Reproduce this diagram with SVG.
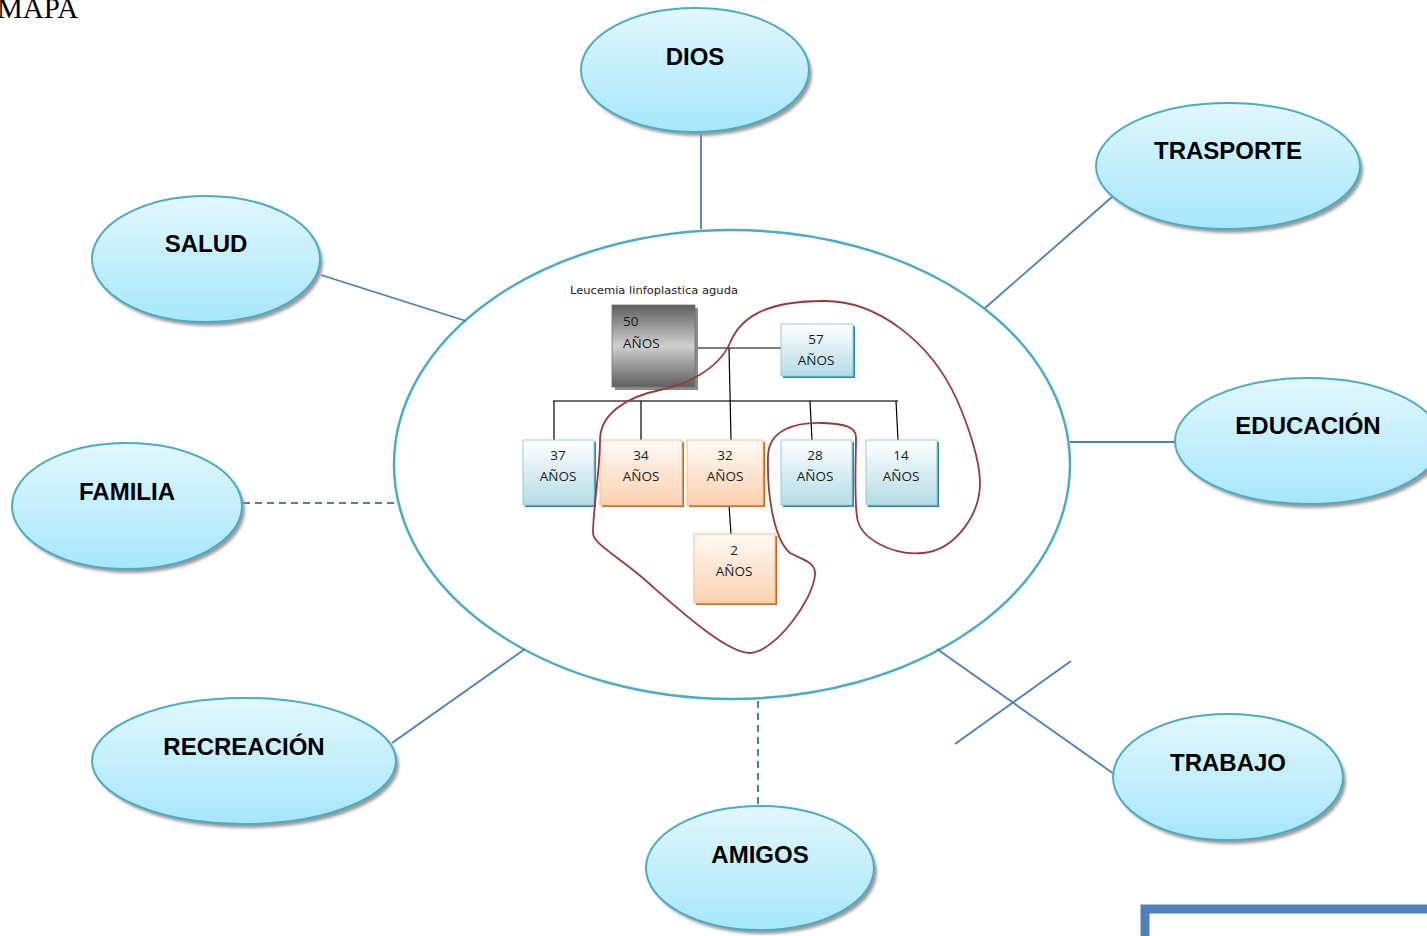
<svg xmlns="http://www.w3.org/2000/svg" width="1427" height="936" viewBox="0 0 1427 936">
  <defs>
    <linearGradient id="bubble" x1="0" y1="0" x2="0" y2="1">
      <stop offset="0" stop-color="#e2f7fd"/>
      <stop offset="1" stop-color="#a6e7fb"/>
    </linearGradient>
    <linearGradient id="blueBox" x1="0" y1="0" x2="0" y2="1">
      <stop offset="0" stop-color="#ffffff"/>
      <stop offset="1" stop-color="#b3dce6"/>
    </linearGradient>
    <linearGradient id="orangeBox" x1="0" y1="0" x2="0" y2="1">
      <stop offset="0" stop-color="#fffaf6"/>
      <stop offset="1" stop-color="#fbd2b1"/>
    </linearGradient>
    <linearGradient id="grayBox" x1="0" y1="0" x2="0" y2="1">
      <stop offset="0" stop-color="#5e5e5e"/>
      <stop offset="0.5" stop-color="#cfcfcf"/>
      <stop offset="1" stop-color="#5e5e5e"/>
    </linearGradient>
    <filter id="soft" x="-10%" y="-10%" width="120%" height="120%">
      <feGaussianBlur stdDeviation="1.5"/>
    </filter>
  </defs>
  <style>
    .bubble { fill: url(#bubble); stroke: #4bacc6; stroke-width: 2; }
    .shade { fill: #9a9a9a; filter: url(#soft); }
    .label { font-family: "Liberation Sans", Arial, sans-serif; font-weight: bold; font-size: 24px; fill: #000; text-anchor: middle; }
    .link { stroke: #4a7ebb; stroke-width: 1.8; fill: none; }
    .dash { stroke-dasharray: 7 5; stroke-width: 2; }
    .tree { stroke: #000; stroke-width: 1.2; fill: none; }
    .sib { stroke: #6e6e6e; stroke-width: 2; fill: none; }
    .bx { fill: url(#blueBox); stroke: #92cddc; stroke-width: 1; }
    .bxs { fill: #31859c; }
    .ox { fill: url(#orangeBox); stroke: #f9be8f; stroke-width: 1; }
    .oxs { fill: #c86a22; }
    .age { font-family: "Open Sans", "Liberation Sans", sans-serif; font-size: 13.5px; fill: #1a1a1a; text-anchor: middle; }
    .left { text-anchor: start; }
    .loop { stroke: #973a3a; stroke-width: 1.8; fill: none; }
  </style>

  <text x="-3" y="18" font-family="Liberation Serif, Times New Roman, serif" font-size="29" fill="#000">MAPA</text>

  <!-- central circle -->
  <ellipse id="centro" cx="732" cy="464.5" rx="338" ry="234.5" fill="#fff" stroke="#4bacc6" stroke-width="2.5"/>

  <!-- connectors -->
  <g id="connectors">
    <line class="link" x1="701" y1="133" x2="701" y2="229"/>
    <line class="link" x1="1112" y1="197" x2="985" y2="308"/>
    <line class="link" x1="321" y1="275" x2="466" y2="321"/>
    <line class="link" x1="1070" y1="442" x2="1176" y2="442"/>
    <line class="link dash" x1="243" y1="503" x2="397" y2="503"/>
    <line class="link" x1="392" y1="743" x2="525" y2="649"/>
    <line class="link dash" x1="758" y1="701" x2="758" y2="805"/>
    <line class="link" x1="937" y1="649" x2="1114" y2="774"/>
    <line class="link" x1="955" y1="744" x2="1071" y2="661"/>
  </g>

  <!-- surrounding topics -->
  <g id="dios">
    <ellipse class="shade" cx="698" cy="74" rx="114" ry="62"/>
    <ellipse class="bubble" cx="695" cy="70" rx="114" ry="62"/>
    <text class="label" x="695" y="65">DIOS</text>
  </g>
  <g id="trasporte">
    <ellipse class="shade" cx="1231" cy="170" rx="132" ry="63"/>
    <ellipse class="bubble" cx="1228" cy="166" rx="132" ry="63"/>
    <text class="label" x="1228" y="159">TRASPORTE</text>
  </g>
  <g id="salud">
    <ellipse class="shade" cx="209" cy="263" rx="114" ry="63"/>
    <ellipse class="bubble" cx="206" cy="259" rx="114" ry="63"/>
    <text class="label" x="206" y="252">SALUD</text>
  </g>
  <g id="educacion">
    <ellipse class="shade" cx="1311" cy="445" rx="133" ry="63"/>
    <ellipse class="bubble" cx="1308" cy="441" rx="133" ry="63"/>
    <text class="label" x="1308" y="434">EDUCACIÓN</text>
  </g>
  <g id="familia">
    <ellipse class="shade" cx="130" cy="510" rx="115" ry="63"/>
    <ellipse class="bubble" cx="127" cy="506" rx="115" ry="63"/>
    <text class="label" x="127" y="500">FAMILIA</text>
  </g>
  <g id="recreacion">
    <ellipse class="shade" cx="247" cy="765" rx="152" ry="63"/>
    <ellipse class="bubble" cx="244" cy="761" rx="152" ry="63"/>
    <text class="label" x="244" y="755">RECREACIÓN</text>
  </g>
  <g id="trabajo">
    <ellipse class="shade" cx="1231" cy="781" rx="115" ry="63"/>
    <ellipse class="bubble" cx="1228" cy="777" rx="115" ry="63"/>
    <text class="label" x="1228" y="771">TRABAJO</text>
  </g>
  <g id="amigos">
    <ellipse class="shade" cx="763" cy="872" rx="114" ry="62"/>
    <ellipse class="bubble" cx="760" cy="868" rx="114" ry="62"/>
    <text class="label" x="760" y="863">AMIGOS</text>
  </g>

  <!-- genogram -->
  <g id="genograma">
    <text x="570" y="294" font-family="DejaVu Sans, sans-serif" font-size="11" fill="#222" textLength="168" lengthAdjust="spacingAndGlyphs">Leucemia linfoplastica aguda</text>

    <line class="sib" x1="553" y1="401" x2="898" y2="401"/>
    <line class="tree" x1="695" y1="348" x2="781" y2="348"/>
    <line class="tree" x1="729" y1="348" x2="731" y2="440"/>
    <line class="tree" x1="554" y1="401" x2="554" y2="440"/>
    <line class="tree" x1="641" y1="401" x2="641" y2="440"/>
    <line class="tree" x1="810" y1="401" x2="812" y2="440"/>
    <line class="tree" x1="896" y1="401" x2="898" y2="440"/>
    <line class="tree" x1="729" y1="505" x2="731" y2="534"/>

    <g id="p50">
      <rect x="615" y="308" width="83" height="82" fill="#8a8a8a"/>
      <rect x="612" y="305" width="83" height="82" fill="url(#grayBox)" stroke="#707070" stroke-width="0.8"/>
      <text class="age left" x="623" y="326">50</text>
      <text class="age left" x="623" y="348">AÑOS</text>
    </g>
    <g id="p57">
      <rect class="bxs" x="783" y="326" width="72" height="52"/>
      <rect class="bx" x="781" y="324" width="72" height="52"/>
      <text class="age" x="816" y="344">57</text>
      <text class="age" x="816" y="365">AÑOS</text>
    </g>
    <g id="p37">
      <rect class="bxs" x="525" y="442" width="71" height="65"/>
      <rect class="bx" x="523" y="440" width="71" height="65"/>
      <text class="age" x="558" y="460">37</text>
      <text class="age" x="558" y="481">AÑOS</text>
    </g>
    <g id="p34">
      <rect class="oxs" x="602" y="442" width="82" height="65"/>
      <rect class="ox" x="600" y="440" width="82" height="65"/>
      <text class="age" x="641" y="460">34</text>
      <text class="age" x="641" y="481">AÑOS</text>
    </g>
    <g id="p32">
      <rect class="oxs" x="689" y="442" width="76" height="65"/>
      <rect class="ox" x="687" y="440" width="76" height="65"/>
      <text class="age" x="725" y="460">32</text>
      <text class="age" x="725" y="481">AÑOS</text>
    </g>
    <g id="p28">
      <rect class="bxs" x="783" y="442" width="71" height="65"/>
      <rect class="bx" x="781" y="440" width="71" height="65"/>
      <text class="age" x="815" y="460">28</text>
      <text class="age" x="815" y="481">AÑOS</text>
    </g>
    <g id="p14">
      <rect class="bxs" x="868" y="442" width="71" height="65"/>
      <rect class="bx" x="866" y="440" width="71" height="65"/>
      <text class="age" x="901" y="460">14</text>
      <text class="age" x="901" y="481">AÑOS</text>
    </g>
    <g id="p2">
      <rect class="oxs" x="696" y="536" width="81" height="69"/>
      <rect class="ox" x="694" y="534" width="81" height="69"/>
      <text class="age" x="734" y="555">2</text>
      <text class="age" x="734" y="576">AÑOS</text>
    </g>

    <!-- household boundary -->
    <path class="loop" d="M600,440 C600,415 625,397 660,390 C685,385 718,370 730,343 C740,318 765,301 823,301 C875,300 930,340 957,400 C968,425 980,460 980,483 C980,515 955,550 923,553 C895,556 860,540 857,517 C854,495 856,455 856,437 C856,427 845,424 823,423 C795,422 768,430 768,457 C767,500 775,540 790,553 C803,560 816,562 815,575 C813,600 775,652 750,653 C728,653 685,615 653,587 C625,560 593,545 593,533 C593,510 600,470 600,440 Z"/>
  </g>

  <!-- frame corner at the lower right -->
  <rect x="1145" y="909" width="320" height="80" fill="none" stroke="#4f81bd" stroke-width="9"/>
</svg>
